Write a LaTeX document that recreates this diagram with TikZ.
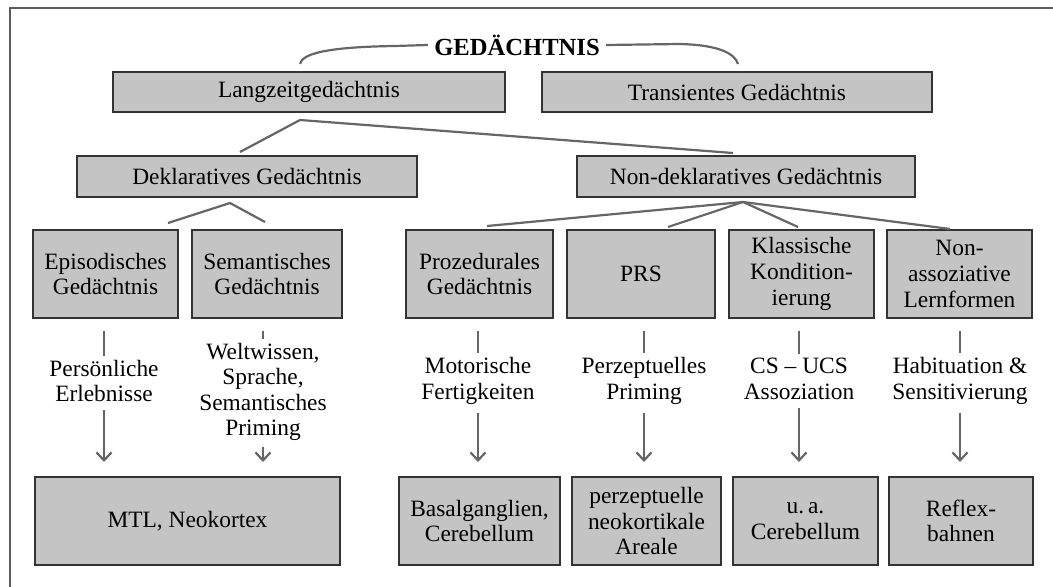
\documentclass[tikz,border=0pt]{standalone}
\usepackage{fontspec}
\setmainfont{Liberation Serif}
\usetikzlibrary{shadows, arrows.meta}

\definecolor{boxgray}{HTML}{C4C4C4}
\definecolor{linegray}{HTML}{666666}
\definecolor{edgegray}{HTML}{333333}

\begin{document}
\begin{tikzpicture}[x=0.5pt, y=-0.5pt, font=\fontsize{11.7}{12.8}\selectfont, >={Straight Barb[length=4pt,width=7.5pt]}]
    \tikzstyle{box} = [draw=edgegray, line width=1pt, fill=boxgray, align=center, inner sep=0pt, drop shadow={shadow xshift=0.7pt, shadow yshift=-0.7pt, fill=black!30}]
    \tikzstyle{wide} = [box, minimum height=20pt]
    \tikzstyle{cell} = [box, minimum width=72.5pt, minimum height=44pt]
    \tikzstyle{lbl} = [align=center, inner sep=2pt]
    \tikzstyle{conn} = [draw=linegray, line width=1.1pt]

    \useasboundingbox (0,0) rectangle (1053,587);
    \draw[edgegray!80, line width=0.8pt] (10,587) -- (10,8) -- (1053,8);

    % top
    \node[font=\fontsize{12.3}{14}\selectfont\bfseries, inner sep=3pt] (ged) at (517,45) {GEDÄCHTNIS};
    \node[wide, minimum width=196pt] (lang) at (309,92) {Langzeitgedächtnis};
    \node[wide, minimum width=195pt] (trans) at (737,92) {Transientes Gedächtnis};
    \node[wide, minimum width=170pt, minimum height=20.5pt] (dekl) at (247,176.5) {Deklaratives Gedächtnis};
    \node[wide, minimum width=169pt, minimum height=20.5pt] (nondekl) at (746,176.5) {Non-deklaratives Gedächtnis};

    % memory systems
    \node[cell] (epi) at (105.5,274) {Episodisches\\Gedächtnis};
    \node[cell, minimum width=75pt] (sem) at (267,274) {Semantisches\\Gedächtnis};
    \node[cell, minimum width=73.5pt] (proz) at (479.5,274) {Prozedurales\\Gedächtnis};
    \node[cell, minimum width=74pt] (prs) at (641,274) {PRS};
    \node[cell] (klass) at (801.5,274) {Klassische\\Kondition-\\ierung};
    \node[cell] (nonass) at (959.5,274) {Non-\\assoziative\\Lernformen};

    % contents
    \node[lbl] (pers) at (104,381) {Persönliche\\Erlebnisse};
    \node[lbl] (welt) at (263,392) {Weltwissen,\\Sprache,\\Semantisches\\Priming};
    \node[lbl] (moto) at (478,381) {Motorische\\Fertigkeiten};
    \node[lbl] (perzp) at (644,381) {Perzeptuelles\\Priming};
    \node[lbl] (csucs) at (799,379) {CS -- UCS\\Assoziation};
    \node[lbl] (habit) at (960,381) {Habituation \&\\Sensitivierung};

    % brain areas
    \node[cell, minimum width=152.5pt] (mtl) at (187.5,521) {MTL, Neokortex};
    \node[cell, minimum width=80.5pt] (basal) at (479.5,521) {Basalganglien,\\Cerebellum};
    \node[cell, minimum width=74.5pt] (perz) at (646.5,521) {perzeptuelle\\neokortikale\\Areale};
    \node[cell] (ua) at (805.5,521) {u.\,a.\\Cerebellum};
    \node[cell, minimum width=72pt] (reflex) at (961,521) {Reflex-\\bahnen};

    % tree lines
    \coordinate (langtop) at (300,64);
    \coordinate (transtop) at (738,64);
    \draw[conn] (ged.west) -- (395,46) .. controls (325,47) and (302,54) .. (langtop);
    \draw[conn] (ged.east) -- (680,44) .. controls (720,45) and (735,54) .. (transtop);

    \coordinate (langfoot) at (300,120);
    \coordinate (dekltop) at (240,152);
    \coordinate (nondekltop) at (733,153);
    \draw[conn] (dekltop) -- (langfoot) -- (nondekltop);

    \coordinate (deklfoot) at (230,203);
    \coordinate (epitop) at (168,223);
    \coordinate (semtop) at (265,222);
    \draw[conn] (epitop) -- (deklfoot) -- (semtop);

    \coordinate (ndfoot) at (743,202);
    \coordinate (proztop) at (487,226);
    \coordinate (prstop) at (668,227);
    \coordinate (klasstop) at (798,227);
    \coordinate (nonasstop) at (950,229);
    \draw[conn] (proztop) -- (ndfoot) -- (nonasstop);
    \draw[conn] (prstop) -- (ndfoot) -- (klasstop);

    % columns
    \draw[conn, shorten <=6pt] (epi.south -| pers) -- (pers.north);
    \draw[conn, shorten <=6pt] (sem.south -| welt) -- (welt.north);
    \draw[conn, shorten <=6pt] (proz.south -| moto) -- (moto.north);
    \draw[conn, shorten <=6pt] (prs.south -| perzp) -- (perzp.north);
    \draw[conn, shorten <=6pt] (klass.south -| csucs) -- (csucs.north);
    \draw[conn, shorten <=6pt] (nonass.south -| habit) -- (habit.north);

    \draw[conn, ->, shorten <=2pt, shorten >=7pt] (pers.south) -- (pers.south |- mtl.north);
    \draw[conn, ->, shorten <=1pt, shorten >=7pt] (welt.south) -- (welt.south |- mtl.north);
    \draw[conn, ->, shorten <=2pt, shorten >=7pt] (moto.south) -- (moto.south |- basal.north);
    \draw[conn, ->, shorten <=2pt, shorten >=7pt] (perzp.south) -- (perzp.south |- perz.north);
    \draw[conn, ->, shorten <=2pt, shorten >=7pt] (csucs.south) -- (csucs.south |- ua.north);
    \draw[conn, ->, shorten <=2pt, shorten >=7pt] (habit.south) -- (habit.south |- reflex.north);
\end{tikzpicture}
\end{document}
